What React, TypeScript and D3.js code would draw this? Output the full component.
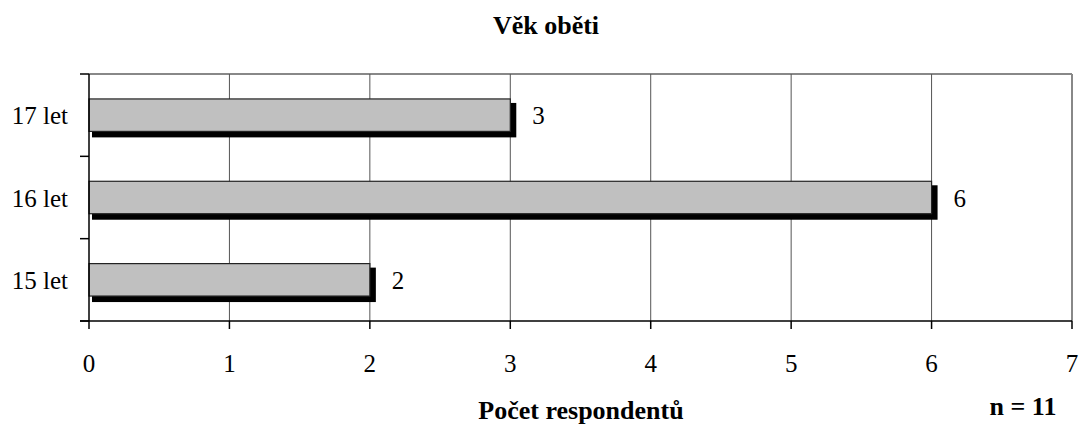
import React from "react";
import * as d3 from "d3";

const categories = ["17 let", "16 let", "15 let"];
const values = [3, 6, 2];
const xTicks = [0, 1, 2, 3, 4, 5, 6, 7];
const title = "Věk oběti";
const xTitle = "Počet respondentů";
const note = "n = 11";

const W = 1082;
const H = 427;
const M = { left: 89, right: 1072, top: 74, bottom: 321 };
const FONT = "Liberation Serif";

export default function App() {
  const x = d3.scaleLinear().domain([0, 7]).range([M.left, M.right]);
  const yCat = d3.scaleBand<string>().domain(categories).range([M.top, M.bottom]).padding(0);
  const yBar = d3
    .scaleBand<string>()
    .domain(categories)
    .range([M.top, M.bottom])
    .paddingInner(0.606)
    .paddingOuter(0.303);
  const bw = yBar.bandwidth();
  const catBounds = [...categories.map((c) => yCat(c) as number), M.bottom];
  const txt = { fontFamily: FONT };

  return (
    <svg
      width={W}
      height={H}
      style={{ position: "absolute", left: 0, top: 0, background: "#fff", fontFamily: FONT }}
    >
      <rect x={0} y={0} width={W} height={H} fill="#fff" />
      <line x1={M.left} x2={M.right} y1={M.top} y2={M.top} stroke="#888" strokeWidth={2} />
      <line x1={M.right} x2={M.right} y1={M.top} y2={M.bottom} stroke="#888" strokeWidth={2} />
      {xTicks.slice(1, -1).map((t) => (
        <line key={t} x1={x(t)} x2={x(t)} y1={M.top} y2={M.bottom} stroke="#555" strokeWidth={1} />
      ))}
      {categories.map((c, i) => {
        const y0 = yBar(c) as number;
        const x0 = x(0);
        const x1 = x(values[i]);
        return (
          <g key={c}>
            <rect x={x0 + 3} y={y0 + 4} width={x1 - x0 + 3} height={bw + 2} fill="#000" />
            <rect x={x0} y={y0} width={x1 - x0} height={bw} fill="#c0c0c0" stroke="#222" strokeWidth={1.2} />
            <text style={txt} x={x1 + 22} y={y0 + bw / 2 + 9} fontSize={25} fill="#000">
              {values[i]}
            </text>
          </g>
        );
      })}
      <line x1={M.left} x2={M.left} y1={M.top} y2={M.bottom} stroke="#000" strokeWidth={1.5} />
      {catBounds.map((b, i) => (
        <line key={i} x1={M.left - 9} x2={M.left} y1={b} y2={b} stroke="#000" strokeWidth={1.5} />
      ))}
      {categories.map((c) => (
        <text
          key={c}
          style={txt}
          x={68}
          y={(yCat(c) as number) + yCat.bandwidth() / 2 + 9}
          textAnchor="end"
          fontSize={25}
          fill="#000"
        >
          {c}
        </text>
      ))}
      <line x1={M.left - 9} x2={M.right} y1={M.bottom} y2={M.bottom} stroke="#000" strokeWidth={1.5} />
      {xTicks.map((t) => (
        <g key={t}>
          <line x1={x(t)} x2={x(t)} y1={M.bottom} y2={M.bottom + 8} stroke="#000" strokeWidth={1.5} />
          <text style={txt} x={x(t)} y={372} textAnchor="middle" fontSize={25} fill="#000">
            {t}
          </text>
        </g>
      ))}
      <text style={txt} x={546} y={34} textAnchor="middle" fontSize={26} fontWeight="bold" fill="#000">
        {title}
      </text>
      <text style={txt} x={581} y={419} textAnchor="middle" fontSize={26} fontWeight="bold" fill="#000">
        {xTitle}
      </text>
      <text style={txt} x={1023} y={415} textAnchor="middle" fontSize={26} fontWeight="bold" fill="#000">
        {note}
      </text>
    </svg>
  );
}
